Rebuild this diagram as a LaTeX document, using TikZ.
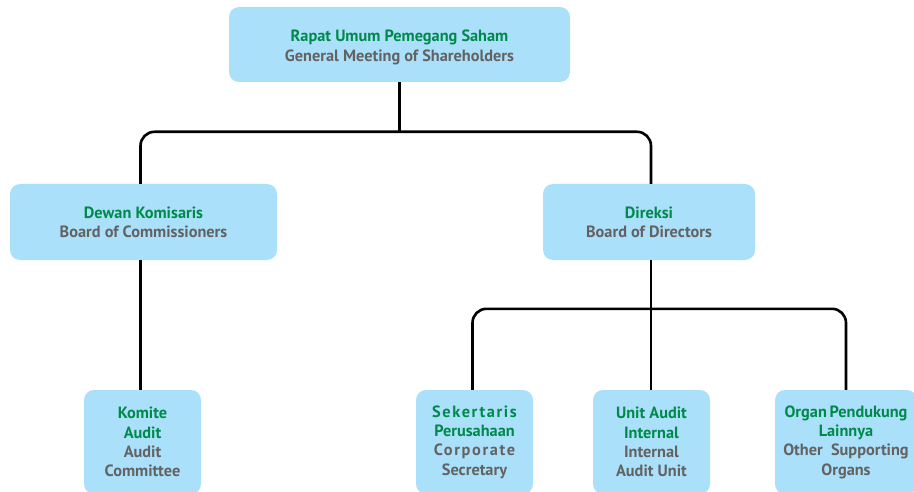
\documentclass[tikz,border=0pt]{standalone}
\usepackage{fontspec}
\setmainfont{PT Sans}
\definecolor{boxblue}{HTML}{ABE0FA}
\definecolor{hdgreen}{HTML}{00894A}
\definecolor{engrey}{HTML}{626262}
\newcommand\hdg[1]{\textcolor{hdgreen}{#1}}
\newcommand\eng[1]{\textcolor{engrey}{#1}}
\newcommand\spaced[1]{{\addfontfeatures{LetterSpace=10}#1}}
\begin{document}
\begin{tikzpicture}[x=1pt,y=-1pt,
  orgtext/.style={align=center, inner sep=0pt,
    font=\bfseries\fontsize{16.3}{19.3}\selectfont},
  orgbox/.style={orgtext, fill=boxblue, rounded corners=10pt},
  link/.style={line width=2.6pt, black, rounded corners=14pt}]
\clip (0,0) rectangle (914,492);

% governing bodies
\node[orgbox, minimum width=341pt, minimum height=75pt] (rups) at (399.5,44.5) {};
\node[orgtext] (rupstext) at ([yshift=-3pt]rups.center)
  {\hdg{Rapat Umum Pemegang Saham}\\\eng{General Meeting of Shareholders}};
\node[orgbox, minimum width=267pt, minimum height=76pt] (dk) at (143.5,222)
  {\hdg{Dewan Komisaris}\\\eng{Board of Commissioners}};
\node[orgbox, minimum width=212pt, minimum height=76pt] (dir) at (649,222)
  {\hdg{Direksi}\\\eng{Board of Directors}};

% supporting units
\node[orgbox, minimum width=117pt, minimum height=104pt] (ka) at (142.5,442)
  {\hdg{Komite}\\\hdg{Audit}\\\eng{Audit}\\\eng{Committee}};
\node[orgbox, minimum width=117pt, minimum height=104pt] (sk) at (474.5,442)
  {\hdg{\spaced{Sekertaris}}\\\hdg{Perusahaan}\\\eng{\spaced{Corporate}}\\\eng{Secretary}};
\node[orgbox, minimum width=117pt, minimum height=104pt] (ua) at (651.5,442)
  {\hdg{Unit Audit}\\\hdg{Internal}\\\eng{Internal}\\\eng{Audit Unit}};
\node[orgbox, minimum width=142pt, minimum height=104pt] (og) at (846,442)
  {\hdg{Organ\,Pendukung}\\\hdg{Lainnya}\\\eng{Other\ \ Supporting}\\\eng{Organs}};

% connectors
\draw[link] (rups.south) -- ++(0,50);
\draw[link] ([xshift=-3pt]dk.north) -- ++(0,-52) -| ([xshift=2pt]dir.north);
\draw[link] ([xshift=-3pt]dk.south) -- ([xshift=-3pt]dk.south |- ka.north);
\draw[link] ([xshift=2pt]dir.south) -- ([xshift=2pt]dir.south |- ua.north);
\draw[link] ([xshift=-2pt]sk.north) -- ++(0,-81) -| (og.north);
\end{tikzpicture}
\end{document}
